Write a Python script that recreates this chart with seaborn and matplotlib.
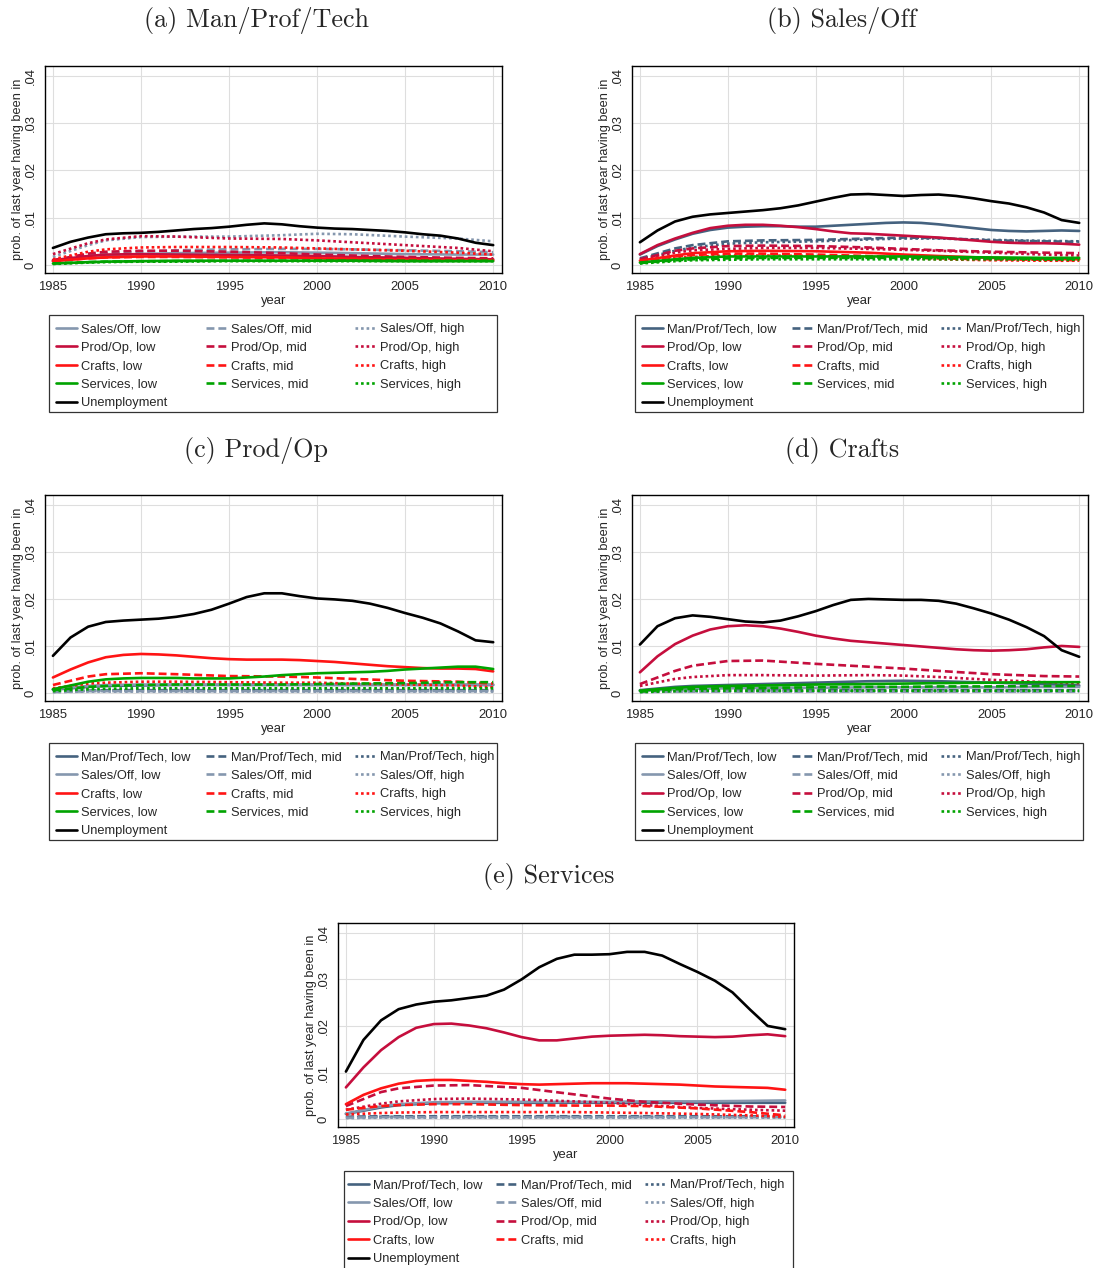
import matplotlib
matplotlib.use("Agg")
import matplotlib.pyplot as plt
import pandas as pd
import seaborn as sns
from matplotlib.lines import Line2D
from matplotlib.patches import Rectangle

W, H = 1099, 1268

YEARS = list(range(1985, 2011))
YEARS_C = [1985, 1987, 1988, 1990, 1992, 1995, 1998, 2000, 2002, 2005, 2008, 2010]
LEVELS = ["low", "mid", "high"]

# (a) origin Man/Prof/Tech
A_UNEMP = [.0036, .0049, .0058, .0065, .0067, .0068, .0070, .0073, .0076, .0078, .0081, .0085, .0088,
           .0086, .0082, .0079, .0077, .0076, .0074, .0072, .0069, .0065, .0062, .0056, .0047, .0042]
A_SALES_LOW = [.0008, .0017, .0020, .0023, .0025, .0026, .0027, .0026, .0025, .0023, .0022, .0022]
A_SALES_MID = [.0009, .0020, .0024, .0028, .0031, .0033, .0034, .0034, .0033, .0031, .0029, .0027]
A_SALES_HIGH = [.0017, .0042, .0052, .0059, .0060, .0060, .0063, .0066, .0065, .0060, .0056, .0050]
A_PROD_LOW = [.0010, .0019, .0022, .0023, .0022, .0021, .0020, .0019, .0017, .0015, .0013, .0012]
A_PROD_MID = [.0010, .0024, .0028, .0030, .0030, .0028, .0025, .0022, .0020, .0017, .0015, .0014]
A_PROD_HIGH = [.0023, .0046, .0054, .0061, .0060, .0056, .0055, .0052, .0048, .0042, .0036, .0029]
A_CRAFT_LOW = [.0008, .0014, .0016, .0018, .0018, .0017, .0016, .0014, .0013, .0011, .0010, .0010]
A_CRAFT_MID = [.0008, .0014, .0016, .0017, .0017, .0016, .0015, .0014, .0013, .0012, .0011, .0010]
A_CRAFT_HIGH = [.0012, .0028, .0033, .0037, .0038, .0038, .0037, .0035, .0033, .0030, .0026, .0022]
A_SERV_LOW = [.0003, .0006, .0007, .0008, .0009, .0009, .0009, .0009, .0009, .0008, .0008, .0008]
A_SERV_MID = [.0003, .0006, .0007, .0008, .0008, .0009, .0009, .0009, .0009, .0009, .0009, .0009]
A_SERV_HIGH = [.0002, .0005, .0006, .0007, .0007, .0008, .0008, .0008, .0008, .0008, .0008, .0008]

# (b) origin Sales/Off
B_UNEMP = [.0048, .0073, .0092, .0102, .0107, .0110, .0113, .0116, .0120, .0126, .0134, .0142, .0149,
           .0150, .0148, .0146, .0148, .0149, .0146, .0141, .0135, .0130, .0122, .0111, .0095, .0089]
B_MPT_LOW = [.0022, .0040, .0054, .0066, .0074, .0079, .0081, .0082, .0082, .0081, .0081, .0083, .0085,
             .0087, .0089, .0090, .0089, .0086, .0082, .0078, .0074, .0072, .0071, .0072, .0073, .0072]
B_MPT_MID = [.0014, .0035, .0042, .0050, .0052, .0053, .0056, .0058, .0057, .0052, .0050, .0049]
B_MPT_HIGH = [.0012, .0030, .0037, .0045, .0048, .0050, .0054, .0056, .0056, .0053, .0051, .0050]
B_PROD_LOW = [.0023, .0042, .0056, .0068, .0078, .0083, .0085, .0085, .0083, .0080, .0076, .0071, .0067,
              .0066, .0064, .0062, .0060, .0058, .0055, .0052, .0049, .0047, .0046, .0046, .0045, .0043]
B_PROD_MID = [.0012, .0030, .0035, .0040, .0041, .0040, .0037, .0034, .0031, .0028, .0026, .0025]
B_PROD_HIGH = [.0010, .0026, .0031, .0034, .0036, .0036, .0034, .0032, .0030, .0026, .0022, .0020]
B_CRAFT_LOW = [.0009, .0020, .0025, .0029, .0030, .0029, .0026, .0022, .0019, .0015, .0013, .0012]
B_CRAFT_MID = [.0008, .0018, .0021, .0024, .0024, .0022, .0019, .0016, .0014, .0012, .0011, .0010]
B_CRAFT_HIGH = [.0007, .0015, .0017, .0020, .0020, .0019, .0017, .0014, .0012, .0010, .0009, .0009]
B_SERV_LOW = [.0005, .0012, .0015, .0018, .0018, .0018, .0018, .0018, .0017, .0016, .0015, .0015]
B_SERV_MID = [.0004, .0010, .0012, .0014, .0015, .0015, .0015, .0015, .0015, .0014, .0013, .0013]
B_SERV_HIGH = [.0003, .0008, .0010, .0011, .0012, .0012, .0012, .0012, .0012, .0012, .0011, .0011]

# (c) origin Prod/Op
C_UNEMP = [.0079, .0118, .0141, .0151, .0154, .0156, .0158, .0162, .0168, .0177, .0190, .0204, .0212,
           .0212, .0206, .0201, .0199, .0196, .0190, .0181, .0170, .0160, .0148, .0131, .0112, .0108]
C_MPT_LOW = [.0007, .0013, .0015, .0016, .0017, .0017, .0017, .0017, .0017, .0017, .0017, .0017]
C_MPT_MID = [.0003, .0005, .0006, .0006, .0006, .0006, .0006, .0006, .0006, .0006, .0006, .0006]
C_MPT_HIGH = [.0003, .0005, .0005, .0006, .0006, .0006, .0006, .0006, .0006, .0006, .0006, .0005]
C_SALES_LOW = [.0008, .0015, .0017, .0018, .0018, .0018, .0018, .0018, .0018, .0018, .0018, .0018]
C_SALES_MID = [.0002, .0004, .0004, .0004, .0004, .0004, .0004, .0004, .0004, .0004, .0004, .0004]
C_SALES_HIGH = [.0002, .0003, .0003, .0003, .0003, .0003, .0003, .0003, .0003, .0003, .0003, .0003]
C_CRAFT_LOW = [.0033, .0050, .0065, .0076, .0081, .0083, .0082, .0080, .0077, .0074, .0072, .0071, .0071,
               .0071, .0070, .0068, .0066, .0063, .0060, .0057, .0055, .0053, .0052, .0052, .0051, .0046]
C_CRAFT_MID = [.0017, .0035, .0040, .0042, .0040, .0036, .0035, .0033, .0030, .0026, .0024, .0020]
C_CRAFT_HIGH = [.0010, .0020, .0022, .0024, .0024, .0023, .0022, .0022, .0020, .0018, .0016, .0012]
C_SERV_LOW = [.0008, .0016, .0024, .0029, .0031, .0032, .0032, .0032, .0031, .0031, .0031, .0033, .0035,
              .0038, .0040, .0042, .0043, .0044, .0045, .0047, .0050, .0052, .0054, .0056, .0056, .0051]
C_SERV_MID = [.0006, .0013, .0015, .0017, .0018, .0018, .0018, .0019, .0020, .0021, .0023, .0023]
C_SERV_HIGH = [.0004, .0008, .0009, .0010, .0010, .0010, .0010, .0010, .0010, .0010, .0010, .0010]

# (d) origin Crafts
D_UNEMP = [.0103, .0142, .0159, .0165, .0162, .0157, .0152, .0150, .0154, .0163, .0174, .0187, .0198,
           .0200, .0199, .0198, .0198, .0196, .0190, .0180, .0169, .0156, .0140, .0121, .0091, .0077]
D_MPT_LOW = [.0006, .0013, .0015, .0017, .0019, .0022, .0025, .0026, .0025, .0022, .0019, .0016]
D_MPT_MID = [.0003, .0005, .0006, .0006, .0006, .0006, .0006, .0006, .0006, .0006, .0006, .0006]
D_MPT_HIGH = [.0003, .0005, .0005, .0005, .0005, .0005, .0005, .0005, .0005, .0005, .0005, .0005]
D_SALES_LOW = [.0004, .0008, .0009, .0010, .0011, .0011, .0012, .0012, .0012, .0012, .0013, .0013]
D_SALES_MID = [.0002, .0003, .0003, .0003, .0003, .0003, .0003, .0003, .0003, .0003, .0003, .0003]
D_SALES_HIGH = [.0002, .0003, .0003, .0003, .0003, .0003, .0003, .0003, .0003, .0003, .0003, .0003]
D_PROD_LOW = [.0044, .0078, .0104, .0122, .0135, .0142, .0144, .0142, .0137, .0130, .0122, .0116, .0111,
              .0108, .0105, .0102, .0099, .0096, .0093, .0091, .0090, .0091, .0093, .0097, .0100, .0098]
D_PROD_MID = [.0019, .0047, .0058, .0068, .0069, .0062, .0056, .0052, .0047, .0040, .0036, .0035]
D_PROD_HIGH = [.0015, .0030, .0034, .0038, .0038, .0037, .0038, .0037, .0034, .0028, .0023, .0021]
D_SERV_LOW = [.0005, .0011, .0013, .0015, .0016, .0018, .0019, .0020, .0021, .0022, .0023, .0023]
D_SERV_MID = [.0003, .0008, .0009, .0010, .0011, .0012, .0013, .0013, .0014, .0014, .0015, .0015]
D_SERV_HIGH = [.0002, .0004, .0005, .0005, .0005, .0005, .0005, .0005, .0005, .0005, .0005, .0005]

# (e) origin Services
E_UNEMP = [.0102, .0170, .0212, .0236, .0246, .0252, .0255, .0260, .0265, .0278, .0300, .0326, .0344,
           .0353, .0353, .0354, .0359, .0359, .0351, .0333, .0316, .0297, .0272, .0235, .0200, .0193]
E_MPT_LOW = [.0011, .0025, .0030, .0034, .0035, .0035, .0035, .0035, .0035, .0035, .0035, .0035]
E_MPT_MID = [.0005, .0006, .0006, .0006, .0006, .0006, .0006, .0006, .0006, .0006, .0006, .0005]
E_MPT_HIGH = [.0004, .0005, .0005, .0005, .0005, .0005, .0005, .0005, .0005, .0005, .0005, .0004]
E_SALES_LOW = [.0012, .0027, .0032, .0036, .0037, .0037, .0037, .0037, .0038, .0038, .0039, .0040]
E_SALES_MID = [.0003, .0004, .0004, .0004, .0004, .0004, .0004, .0004, .0004, .0004, .0004, .0004]
E_SALES_HIGH = [.0002, .0003, .0003, .0003, .0003, .0003, .0003, .0003, .0003, .0003, .0003, .0003]
E_PROD_LOW = [.0068, .0111, .0148, .0176, .0196, .0204, .0205, .0201, .0195, .0186, .0176, .0169, .0169,
              .0173, .0177, .0179, .0180, .0181, .0180, .0178, .0177, .0176, .0177, .0180, .0182, .0178]
E_PROD_MID = [.0028, .0058, .0066, .0072, .0073, .0067, .0053, .0044, .0037, .0031, .0027, .0026]
E_PROD_HIGH = [.0020, .0033, .0038, .0043, .0044, .0042, .0038, .0035, .0030, .0024, .0020, .0018]
E_CRAFT_LOW = [.0032, .0052, .0066, .0076, .0082, .0084, .0084, .0082, .0080, .0077, .0075, .0074, .0075,
               .0076, .0077, .0077, .0077, .0076, .0075, .0074, .0072, .0070, .0069, .0068, .0067, .0063]
E_CRAFT_MID = [.0020, .0028, .0030, .0032, .0032, .0030, .0029, .0029, .0028, .0023, .0015, .0008]
E_CRAFT_HIGH = [.0010, .0013, .0014, .0015, .0015, .0015, .0015, .0014, .0013, .0011, .0008, .0005]

OCC_COLORS = {
    "Man/Prof/Tech": "#45627f",
    "Sales/Off": "#8597ae",
    "Prod/Op": "#c50e3d",
    "Crafts": "#ff1414",
    "Services": "#00a300",
}
LEVEL_DASHES = {"low": "", "mid": (3.0, 1.5), "high": (1.0, 1.1)}
LW = 1.9

PANELS = [
    {
        "title": "(a) Man/Prof/Tech", "title_xy": (256, 21),
        "ax": (45, 66, 502, 273), "legend": (49, 315, 497, 412), "cols": (56, 206, 355),
        "series": [("Sales/Off", [A_SALES_LOW, A_SALES_MID, A_SALES_HIGH]),
                   ("Prod/Op", [A_PROD_LOW, A_PROD_MID, A_PROD_HIGH]),
                   ("Crafts", [A_CRAFT_LOW, A_CRAFT_MID, A_CRAFT_HIGH]),
                   ("Services", [A_SERV_LOW, A_SERV_MID, A_SERV_HIGH])],
        "unemp": A_UNEMP,
    },
    {
        "title": "(b) Sales/Off", "title_xy": (842, 21),
        "ax": (632, 66, 1088, 273), "legend": (635, 315, 1083, 412), "cols": (642, 792, 941),
        "series": [("Man/Prof/Tech", [B_MPT_LOW, B_MPT_MID, B_MPT_HIGH]),
                   ("Prod/Op", [B_PROD_LOW, B_PROD_MID, B_PROD_HIGH]),
                   ("Crafts", [B_CRAFT_LOW, B_CRAFT_MID, B_CRAFT_HIGH]),
                   ("Services", [B_SERV_LOW, B_SERV_MID, B_SERV_HIGH])],
        "unemp": B_UNEMP,
    },
    {
        "title": "(c) Prod/Op", "title_xy": (256, 450),
        "ax": (45, 495, 502, 701), "legend": (49, 743, 497, 840), "cols": (56, 206, 355),
        "series": [("Man/Prof/Tech", [C_MPT_LOW, C_MPT_MID, C_MPT_HIGH]),
                   ("Sales/Off", [C_SALES_LOW, C_SALES_MID, C_SALES_HIGH]),
                   ("Crafts", [C_CRAFT_LOW, C_CRAFT_MID, C_CRAFT_HIGH]),
                   ("Services", [C_SERV_LOW, C_SERV_MID, C_SERV_HIGH])],
        "unemp": C_UNEMP,
    },
    {
        "title": "(d) Crafts", "title_xy": (842, 450),
        "ax": (632, 495, 1088, 701), "legend": (635, 743, 1083, 840), "cols": (642, 792, 941),
        "series": [("Man/Prof/Tech", [D_MPT_LOW, D_MPT_MID, D_MPT_HIGH]),
                   ("Sales/Off", [D_SALES_LOW, D_SALES_MID, D_SALES_HIGH]),
                   ("Prod/Op", [D_PROD_LOW, D_PROD_MID, D_PROD_HIGH]),
                   ("Services", [D_SERV_LOW, D_SERV_MID, D_SERV_HIGH])],
        "unemp": D_UNEMP,
    },
    {
        "title": "(e) Services", "title_xy": (549, 877),
        "ax": (338, 923, 794, 1127), "legend": (344, 1171, 793, 1270), "cols": (348, 496, 645),
        "series": [("Man/Prof/Tech", [E_MPT_LOW, E_MPT_MID, E_MPT_HIGH]),
                   ("Sales/Off", [E_SALES_LOW, E_SALES_MID, E_SALES_HIGH]),
                   ("Prod/Op", [E_PROD_LOW, E_PROD_MID, E_PROD_HIGH]),
                   ("Crafts", [E_CRAFT_LOW, E_CRAFT_MID, E_CRAFT_HIGH])],
        "unemp": E_UNEMP,
    },
]


def px_rect(x0, y0, x1, y1):
    return [x0 / W, 1 - y1 / H, (x1 - x0) / W, (y1 - y0) / H]


def panel_frame(series, unemp):
    rows = []
    for occ, levels in series:
        for level, vals in zip(LEVELS, levels):
            years = YEARS if len(vals) == len(YEARS) else YEARS_C
            for yr, v in zip(years, vals):
                rows.append({"year": yr, "value": v, "series": f"{occ}, {level}"})
    for yr, v in zip(YEARS, unemp):
        rows.append({"year": yr, "value": v, "series": "Unemployment"})
    return pd.DataFrame(rows)


def handle(color, dash):
    ls = "-" if dash == "" else (0, dash)
    return Line2D([], [], color=color, lw=LW, linestyle=ls)


def draw_panel(fig, spec):
    ax = fig.add_axes(px_rect(*spec["ax"]))
    df = panel_frame(spec["series"], spec["unemp"])

    order, palette, dashes = [], {}, {}
    for occ, _ in spec["series"]:
        for level in LEVELS:
            name = f"{occ}, {level}"
            order.append(name)
            palette[name] = OCC_COLORS[occ]
            dashes[name] = LEVEL_DASHES[level]
    order.append("Unemployment")
    palette["Unemployment"] = "black"
    dashes["Unemployment"] = ""

    sns.lineplot(data=df, x="year", y="value", hue="series", style="series",
                 hue_order=order, style_order=order, palette=palette, dashes=dashes,
                 estimator=None, linewidth=LW, legend=False, ax=ax)

    ax.set_xlim(1984.55, 2010.5)
    ax.set_ylim(-0.0017, 0.0421)
    ax.set_xticks([1985, 1990, 1995, 2000, 2005, 2010])
    ax.set_yticks([0, .01, .02, .03, .04])
    ax.set_yticklabels(["0", ".01", ".02", ".03", ".04"], rotation=90, va="center")
    ax.tick_params(axis="both", direction="out", length=4, width=0.8, color="black",
                   labelsize=9.4, pad=2)
    ax.grid(True, color="#dedede", linewidth=0.8)
    ax.set_axisbelow(True)
    for sp in ax.spines.values():
        sp.set_color("black")
        sp.set_linewidth(1.0)
    ax.set_xlabel("year", fontsize=9.4, labelpad=1)
    ax.set_ylabel("prob. of last year having been in", fontsize=9.2)
    ax.yaxis.set_label_coords(-0.047, 0.5)

    tx, ty = spec["title_xy"]
    fig.text(tx / W, 1 - ty / H, spec["title"], ha="center", va="center",
             fontsize=18.8, family="cmr10")

    # legend: three equal-width columns (low + unemployment, mid, high) in a box
    bx0, by0, bx1, by1 = spec["legend"]
    fig.patches.append(Rectangle((bx0 / W, 1 - by1 / H), (bx1 - bx0) / W, (by1 - by0) / H,
                                 transform=fig.transFigure, fill=False,
                                 edgecolor="#333333", linewidth=0.9))
    for level, cx in zip(LEVELS, spec["cols"]):
        handles = [handle(OCC_COLORS[occ], LEVEL_DASHES[level]) for occ, _ in spec["series"]]
        labels = [f"{occ}, {level}" for occ, _ in spec["series"]]
        if level == "low":
            handles.append(handle("black", ""))
            labels.append("Unemployment")
        fig.legend(handles, labels, ncol=1, loc="upper left",
                   bbox_to_anchor=(cx / W, 1 - (by0 + 8) / H),
                   bbox_transform=fig.transFigure, borderaxespad=0, borderpad=0,
                   fontsize=9.3, handlelength=1.65, handletextpad=0.3,
                   labelspacing=0.5, frameon=False)


def main():
    sns.set_theme(style="white")
    plt.rcParams["font.family"] = ["Liberation Sans", "DejaVu Sans"]
    plt.rcParams["axes.unicode_minus"] = False
    fig = plt.figure(figsize=(W / 100, H / 100), dpi=100)
    fig.patch.set_facecolor("white")
    for spec in PANELS:
        draw_panel(fig, spec)
    fig.savefig("out.png", dpi=100, facecolor="white")
    plt.close(fig)


if __name__ == "__main__":
    main()
